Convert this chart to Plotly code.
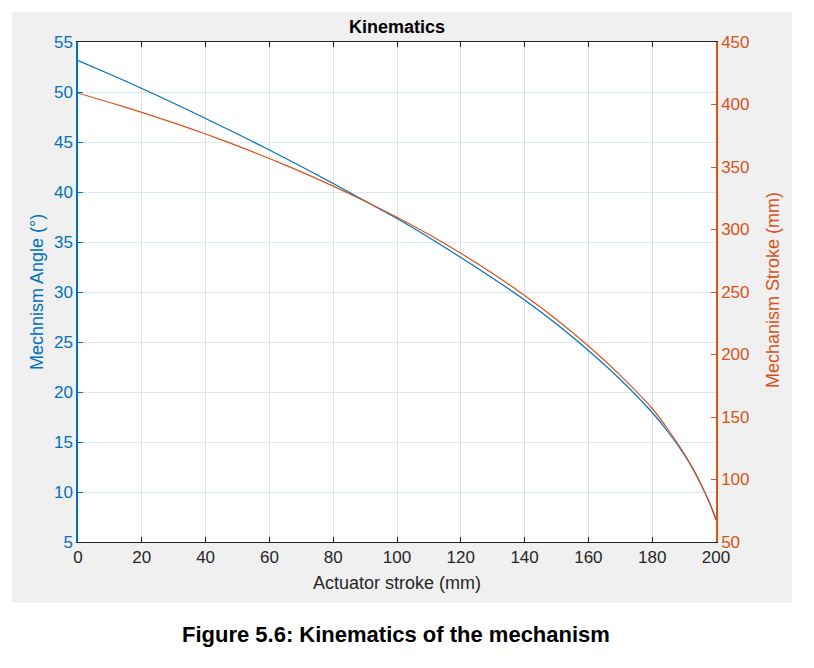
import plotly.graph_objects as go

# Data
actuator_stroke = [0, 10, 20, 30, 40, 50, 60, 70, 80, 90, 100, 110, 120, 130, 140,
                   150, 160, 170, 180, 185, 190, 193, 196, 198, 200]
mechanism_angle = [53.15, 51.78, 50.35, 48.88, 47.35, 45.8, 44.2, 42.55, 40.85, 39.1,
                   37.35, 35.45, 33.45, 31.38, 29.2, 26.8, 24.15, 21.25, 17.95, 16.0,
                   13.75, 12.16, 10.3, 8.9, 7.3]
mechanism_stroke = [409, 401.6, 393.7, 385.3, 376.4, 366.9, 356.8, 346.1, 334.7, 322.6,
                    309.8, 296.0, 281.0, 264.8, 247.2, 228.0, 206.8, 183.3, 156.8, 140.0,
                    120.8, 107.7, 92.4, 81.2, 67.6]

x_ticks = [0, 20, 40, 60, 80, 100, 120, 140, 160, 180, 200]
left_ticks = [5, 10, 15, 20, 25, 30, 35, 40, 45, 50, 55]
right_ticks = [50, 100, 150, 200, 250, 300, 350, 400, 450]

BLUE = "#0072BD"
ORANGE = "#D95319"
DARK = "#262626"
FONT = "Liberation Sans, Arial, sans-serif"

fig = go.Figure()
fig.add_trace(go.Scatter(x=actuator_stroke, y=mechanism_angle, mode="lines",
                         line=dict(color=BLUE, width=1.2, shape="spline", smoothing=0.8),
                         yaxis="y", showlegend=False))
fig.add_trace(go.Scatter(x=actuator_stroke, y=mechanism_stroke, mode="lines",
                         line=dict(color=ORANGE, width=1.2, shape="spline", smoothing=0.8),
                         yaxis="y2", showlegend=False))

# page has an 8px body margin; figure coordinates = page coordinates - 8
OFF = 8
W, H = 814 - 2 * OFF, 668 - 2 * OFF
L, R, T, B = 78 - OFF, 716 - OFF, 42 - OFF, 542 - OFF
pw, ph = R - L, B - T


def px(xp):
    return (xp - OFF - L) / pw


def py(yp):
    return (B - (yp - OFF)) / ph


shapes = [
    dict(type="rect", xref="paper", yref="paper", x0=px(12), x1=px(792), y0=py(603), y1=py(12),
         fillcolor="#F0F0F0", line=dict(width=0), layer="below"),
    dict(type="rect", xref="paper", yref="paper", x0=0, x1=1, y0=0, y1=1,
         fillcolor="white", line=dict(width=0), layer="below"),
]

annotations = [
    dict(text="<b>Kinematics</b>", xref="paper", yref="paper", x=px(397), y=py(26.5),
         xanchor="center", yanchor="middle", showarrow=False,
         font=dict(family=FONT, size=18, color="#000000")),
    dict(text="Actuator stroke (mm)", xref="paper", yref="paper", x=px(397), y=py(583),
         xanchor="center", yanchor="middle", showarrow=False,
         font=dict(family=FONT, size=18, color=DARK)),
    dict(text="Mechnism Angle (°)", xref="paper", yref="paper", x=px(37), y=py(292),
         xanchor="center", yanchor="middle", showarrow=False, textangle=-90,
         font=dict(family=FONT, size=18, color=BLUE)),
    dict(text="Mechanism Stroke (mm)", xref="paper", yref="paper", x=px(773), y=py(290),
         xanchor="center", yanchor="middle", showarrow=False, textangle=-90,
         font=dict(family=FONT, size=18, color=ORANGE)),
    dict(text="<b>Figure 5.6: Kinematics of the mechanism</b>", xref="paper", yref="paper",
         x=px(396), y=py(634), xanchor="center", yanchor="middle", showarrow=False,
         font=dict(family=FONT, size=22, color="#000000")),
]

fig.update_layout(
    width=W, height=H,
    margin=dict(l=L, r=W - R, t=T, b=H - B, pad=0),
    paper_bgcolor="white",
    plot_bgcolor="white",
    shapes=shapes,
    annotations=annotations,
    xaxis=dict(range=[0, 200], tickvals=x_ticks, ticktext=[str(v) for v in x_ticks],
               showgrid=True, gridcolor="#DFDFDF", gridwidth=1, zeroline=False,
               showline=True, linecolor=DARK, linewidth=1, mirror="ticks",
               ticks="inside", ticklen=5, tickcolor=DARK,
               tickfont=dict(family=FONT, size=17, color=DARK)),
    yaxis=dict(range=[5, 55], tickvals=left_ticks, ticktext=[str(v) for v in left_ticks],
               showgrid=True, gridcolor="#DAE9F4", gridwidth=1, zeroline=False,
               showline=True, linecolor=BLUE, linewidth=1.5,
               ticks="inside", ticklen=5, tickcolor=BLUE,
               tickfont=dict(family=FONT, size=17, color=BLUE)),
    yaxis2=dict(range=[50, 450], tickvals=right_ticks, ticktext=[str(v) for v in right_ticks],
                overlaying="y", side="right", showgrid=False, zeroline=False,
                showline=True, linecolor=ORANGE, linewidth=1.5,
                ticks="inside", ticklen=5, tickcolor=ORANGE,
                tickfont=dict(family=FONT, size=17, color=ORANGE)),
)

fig.write_html("out.html")
